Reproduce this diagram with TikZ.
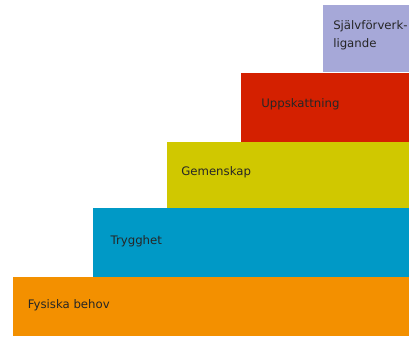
\documentclass[tikz,border=0pt]{standalone}
\usepackage{fontspec}
\setmainfont{DejaVu Sans}
\definecolor{lavstep}{RGB}{166,168,216}
\definecolor{redstep}{RGB}{212,32,0}
\definecolor{yelstep}{RGB}{208,200,0}
\definecolor{bluestep}{RGB}{0,153,198}
\definecolor{orastep}{RGB}{243,144,0}
\tikzset{
  stepbox/.style={anchor=north west, inner sep=0pt, draw=none},
  steplabel/.style={anchor=west, inner sep=0pt, align=left, text=black!85,
    font={\fontsize{8.8}{13.5}\selectfont}}
}
\begin{document}
\begin{tikzpicture}[x=0.75pt, y=-0.75pt]

\useasboundingbox (0,0) rectangle (409,336);

\node [stepbox, fill=orastep, minimum width=297pt, minimum height=44.25pt]
 (fysiska) at (13, 277) {};
\node [stepbox, fill=bluestep, minimum width=237pt, minimum height=51.75pt]
 (trygghet) at (93, 208) {};
\node [stepbox, fill=yelstep, minimum width=181.5pt, minimum height=49.5pt]
 (gemenskap) at (167, 142) {};
\node [stepbox, fill=redstep, minimum width=126pt, minimum height=51.75pt]
 (uppskattning) at (241, 73) {};
\node [stepbox, fill=lavstep, minimum width=64.5pt, minimum height=50.25pt]
 (sjalv) at (323, 5) {};

\node [steplabel] (fysiska-text) at ([xshift=11pt, yshift=1pt]fysiska.west) {Fysiska behov};
\node [steplabel] (trygghet-text) at ([xshift=13pt, yshift=1.5pt]trygghet.west) {Trygghet};
\node [steplabel] (gemenskap-text) at ([xshift=10.5pt, yshift=2pt]gemenskap.west) {Gemenskap};
\node [steplabel] (uppskattning-text) at ([xshift=15pt, yshift=3pt]uppskattning.west) {Uppskattning};
\node [steplabel] (sjalv-text) at ([xshift=7.5pt, yshift=3pt]sjalv.west) {Självförverk-\\ligande};

\end{tikzpicture}
\end{document}
